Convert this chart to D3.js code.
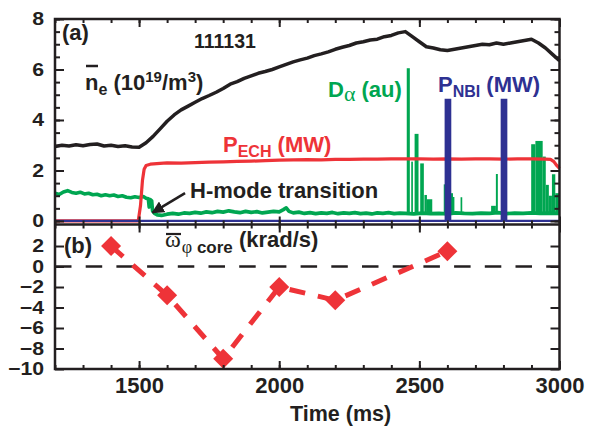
<!DOCTYPE html>
<html>
<head>
<meta charset="utf-8">
<script src="https://cdn.jsdelivr.net/npm/d3@7"></script>
<style>
  body { margin: 0; background: #fff; }
  text { font-family: "Liberation Sans", Arial, sans-serif; font-weight: bold; fill: #231f20; }
  .tk line { stroke: #231f20; stroke-width: 2; }
  .greek { font-family: "Liberation Serif", "DejaVu Serif", serif; font-weight: normal; }
</style>
</head>
<body>
<div id="chart"></div>
<script>
// panel (a) traces, [time ms, value]
var neTrace = [[1200,2.95],[1225,3.0],[1250,2.97],[1275,3.02],[1300,2.98],[1325,3.03],[1350,3.05],[1375,2.97],
  [1400,3.0],[1425,2.95],[1450,2.98],[1475,2.93],[1500,2.92],[1525,3.1],[1550,3.35],[1575,3.65],[1600,3.95],
  [1625,4.2],[1650,4.4],[1675,4.55],[1700,4.7],[1725,4.85],[1750,4.97],[1775,5.1],[1800,5.25],[1825,5.42],
  [1850,5.52],[1875,5.65],[1900,5.75],[1925,5.85],[1950,5.92],[1975,6.0],[2000,6.1],[2025,6.2],[2050,6.3],
  [2075,6.38],[2100,6.45],[2125,6.55],[2150,6.62],[2175,6.7],[2200,6.8],[2225,6.88],[2250,6.95],[2275,7.05],
  [2300,7.1],[2325,7.17],[2350,7.2],[2375,7.3],[2400,7.35],[2425,7.45],[2450,7.5],[2475,7.3],[2500,7.1],
  [2525,6.9],[2550,6.85],[2575,6.78],[2600,6.75],[2625,6.8],[2650,6.85],[2675,6.9],[2700,6.95],[2725,7.0],
  [2750,6.98],[2775,7.05],[2800,7.0],[2825,7.05],[2850,7.1],[2875,7.15],[2900,7.2],[2925,7.05],[2950,6.85],
  [2975,6.6],[3000,6.35]];

var pechTrace = [[1200,0],[1497,0],[1505,0.6],[1512,1.6],[1518,2.05],[1525,2.2],[1540,2.25],[1575,2.28],
  [1600,2.3],[1650,2.29],[1700,2.31],[1750,2.33],[1800,2.34],[1850,2.36],[1900,2.37],[1950,2.39],[2000,2.41],
  [2050,2.42],[2100,2.43],[2150,2.42],[2200,2.44],[2250,2.44],[2300,2.45],[2350,2.45],[2400,2.46],[2450,2.46],
  [2500,2.46],[2550,2.45],[2600,2.46],[2650,2.45],[2700,2.46],[2750,2.46],[2800,2.45],[2850,2.46],[2900,2.46],
  [2950,2.45],[2968,2.44],[2980,2.35],[2990,2.2],[3000,2.08]];

var dalphaTrace = [[1200,1.1],[1215,1.05],[1230,1.15],[1245,1.2],[1260,1.13],[1275,1.1],[1290,1.14],[1305,1.07],
  [1320,1.1],[1335,1.04],[1350,1.06],[1365,1.0],[1380,1.04],[1395,1.0],[1410,1.03],[1425,0.97],[1440,1.0],
  [1455,0.94],[1470,0.92],[1485,0.96],[1500,0.93],[1515,0.97],[1525,0.9],[1533,0.88],[1536,0.55],[1540,0.85],
  [1545,0.8],[1548,0.4],[1555,0.3],[1565,0.24],[1580,0.22],[1600,0.27],[1620,0.3],[1640,0.27],[1660,0.32],
  [1680,0.3],[1700,0.34],[1720,0.31],[1740,0.36],[1760,0.33],[1780,0.38],[1800,0.35],[1820,0.4],[1840,0.36],
  [1860,0.33],[1880,0.38],[1900,0.34],[1920,0.37],[1940,0.32],[1960,0.35],[1980,0.38],[2000,0.36],[2015,0.45],
  [2025,0.52],[2035,0.38],[2050,0.32],[2070,0.35],[2090,0.3],[2110,0.33],[2130,0.29],[2150,0.32],[2170,0.3],
  [2190,0.34],[2210,0.29],[2230,0.32],[2250,0.3],[2270,0.33],[2290,0.29],[2310,0.31],[2330,0.28],[2350,0.32],
  [2370,0.3],[2390,0.33],[2410,0.29],[2430,0.31],[2450,0.3],[2480,0.28],[2510,0.31],[2540,0.29],[2570,0.3],
  [2600,0.28],[2630,0.32],[2660,0.3],[2690,0.29],[2720,0.31],[2750,0.3],[2780,0.33],[2810,0.29],[2840,0.31],
  [2870,0.3],[2900,0.32],[2930,0.3],[2960,0.31],[3000,0.3]];

// D-alpha ELM bursts: [start ms, end ms, peak]
var dalphaBursts = [[2455,2466,6.05],[2471,2477,2.35],[2483,2497,3.45],[2503,2516,2.28],[2518,2527,1.03],
  [2527,2546,0.86],[2587,2604,1.45],[2604,2620,1.1],[2620,2625,0.95],[2647,2653,0.94],[2756,2773,0.6],
  [2773,2780,1.86],[2800,2810,2.59],[2899,2914,3.04],[2914,2940,3.17],[2940,2951,2.55],[2951,2962,1.43],
  [2962,2973,1.0],[2973,2985,1.85],[2985,3000,1.1]];
var dalphaBase = 0.3;

var nbiTrace = [[1200,0],[2594,0],[2594,4.8],[2610,4.8],[2610,0],[2794,0],[2794,4.8],[2810,4.8],[2810,0],[3000,0]];

// panel (b) core rotation
var rotTimes = [1400, 1600, 1800, 2000, 2200, 2600];
var rotValues = [2.0, -2.8, -9.0, -2.0, -3.3, 1.5];

var xTicks = [1500, 2000, 2500, 3000];
var yTicksA = [0, 2, 4, 6, 8];
var yTicksB = [-10, -8, -6, -4, -2, 0, 2];

var red = "#ee3338", green = "#00a651", navy = "#2e3192", black = "#231f20";

var left = 55, right = 559.5, topA = 19, midY = 224.5, botB = 369;

var svg = d3.select("#chart").append("svg")
    .attr("width", 597)
    .attr("height", 432);

var x = d3.scaleLinear().domain([1200, 3000]).range([left, right]);
var yA = d3.scaleLinear().domain([-0.14, 8]).range([midY, topA]);
var yB = d3.scaleLinear().domain([-10, 4.1]).range([botB, midY]);

function ticks(axis, tr, vals, size) {
  svg.append("g").attr("class", "tk").attr("transform", tr)
      .call(axis.tickValues(vals).tickSize(size).tickFormat(""))
      .call(function(g) { g.select(".domain").remove(); g.selectAll("text").remove(); });
}

var minorX = [], minorA = [];
for (var t = 1200; t <= 3000; t += 100) minorX.push(t);
for (var v = 0; v <= 8; v += 0.5) minorA.push(v);

// panel (a) traces
var lineA = d3.line().x(function(d) { return x(d[0]); }).y(function(d) { return yA(d[1]); });

svg.append("path").datum(neTrace)
    .attr("d", lineA).attr("fill", "none").attr("stroke", black)
    .attr("stroke-width", 3.5).attr("stroke-linejoin", "round");

svg.append("path").datum(dalphaTrace)
    .attr("d", lineA).attr("fill", "none").attr("stroke", green)
    .attr("stroke-width", 3.6).attr("stroke-linejoin", "round");

svg.selectAll(".burst").data(dalphaBursts)
  .enter().append("rect")
    .attr("class", "burst")
    .attr("x", function(d) { return x(d[0]); })
    .attr("width", function(d) { return x(d[1]) - x(d[0]); })
    .attr("y", function(d) { return yA(d[2]); })
    .attr("height", function(d) { return yA(dalphaBase) - yA(d[2]); })
    .attr("fill", green);

svg.append("path").datum(pechTrace)
    .attr("d", lineA).attr("fill", "none").attr("stroke", red)
    .attr("stroke-width", 3.2).attr("stroke-linejoin", "round");

svg.append("path").datum(nbiTrace)
    .attr("d", d3.area().x(function(d) { return x(d[0]); }).y0(yA(0)).y1(function(d) { return yA(d[1]); }))
    .attr("fill", navy);
svg.append("path").datum(nbiTrace)
    .attr("d", lineA).attr("fill", "none").attr("stroke", navy).attr("stroke-width", 2.2);

// panel (b)
svg.append("line")
    .attr("x1", x(1200)).attr("x2", x(3000))
    .attr("y1", yB(0)).attr("y2", yB(0))
    .attr("stroke", black).attr("stroke-width", 2.5)
    .attr("stroke-dasharray", "16.5,14.2");

var rot = rotTimes.map(function(t, i) { return [t, rotValues[i]]; });

svg.append("path").datum(rot)
    .attr("d", d3.line().x(function(d) { return x(d[0]); }).y(function(d) { return yB(d[1]); }))
    .attr("fill", "none").attr("stroke", red).attr("stroke-width", 5)
    .attr("stroke-dasharray", "16,13");

svg.selectAll(".pt").data(rot)
  .enter().append("path")
    .attr("class", "pt")
    .attr("d", d3.symbol(d3.symbolSquare, 200))
    .attr("transform", function(d) { return "translate(" + x(d[0]) + "," + yB(d[1]) + ") rotate(45)"; })
    .attr("fill", red);

// frame
svg.append("rect")
    .attr("x", left).attr("y", topA)
    .attr("width", right - left).attr("height", botB - topA)
    .attr("fill", "none").attr("stroke", black).attr("stroke-width", 2.5);
svg.append("line")
    .attr("x1", left).attr("x2", right).attr("y1", midY).attr("y2", midY)
    .attr("stroke", black).attr("stroke-width", 2.5);

// ticks, all pointing inward
ticks(d3.axisLeft(yA), "translate(" + left + ",0)", minorA, -5);
ticks(d3.axisLeft(yA), "translate(" + left + ",0)", yTicksA, -9);
ticks(d3.axisRight(yA), "translate(" + right + ",0)", minorA, -5);
ticks(d3.axisRight(yA), "translate(" + right + ",0)", yTicksA, -9);
ticks(d3.axisLeft(yB), "translate(" + left + ",0)", yTicksB, -9);
ticks(d3.axisRight(yB), "translate(" + right + ",0)", yTicksB, -9);
[topA, midY].forEach(function(yy) {
  ticks(d3.axisTop(x), "translate(0," + yy + ")", minorX, -4);
  ticks(d3.axisTop(x), "translate(0," + yy + ")", xTicks, -8);
});
[midY, botB].forEach(function(yy) {
  ticks(d3.axisBottom(x), "translate(0," + yy + ")", minorX, -4);
  ticks(d3.axisBottom(x), "translate(0," + yy + ")", xTicks, -8);
});

// tick labels
function labels(g) {
  g.select(".domain").remove();
  g.selectAll("text").style("font-size", "22px").attr("fill", black);
}
function yLabels(g) {
  g.select(".domain").remove();
  g.selectAll("text")
      .style("font-size", "18px").attr("fill", black)
      .attr("x", -11 / 1.18).attr("dy", "0.33em")
      .attr("transform", "scale(1.18,1)");
}
svg.append("g").attr("transform", "translate(" + left + ",0)")
    .call(d3.axisLeft(yA).tickValues(yTicksA).tickSize(0).tickPadding(11))
    .call(yLabels);
svg.append("g").attr("transform", "translate(" + left + ",0)")
    .call(d3.axisLeft(yB).tickValues(yTicksB).tickSize(0).tickPadding(11))
    .call(yLabels);
svg.append("g").attr("transform", "translate(0," + botB + ")")
    .call(d3.axisBottom(x).tickValues(xTicks).tickSize(0).tickPadding(8).tickFormat(d3.format("d")))
    .call(labels);

svg.append("text").attr("x", 290).attr("y", 421)
    .style("font-size", "21.5px").text("Time (ms)");

// annotations
svg.append("text").attr("x", 62).attr("y", 40).style("font-size", "22px").text("(a)");
svg.append("text").attr("x", 194).attr("y", 48).style("font-size", "19.5px").text("111131");
svg.append("text").attr("x", 64).attr("y", 253).style("font-size", "22px").text("(b)");

var ne = svg.append("text").attr("x", 85).attr("y", 90).style("font-size", "22px");
ne.append("tspan").text("n");
ne.append("tspan").attr("dy", 5).style("font-size", "16px").text("e");
ne.append("tspan").attr("dy", -5).text(" (10");
ne.append("tspan").attr("dy", -8).style("font-size", "15px").text("19");
ne.append("tspan").attr("dy", 8).text("/m");
ne.append("tspan").attr("dy", -8).style("font-size", "15px").text("3");
ne.append("tspan").attr("dy", 8).text(")");
svg.append("line").attr("x1", 86).attr("x2", 98).attr("y1", 66).attr("y2", 66)
    .attr("stroke", black).attr("stroke-width", 2.5);

var pe = svg.append("text").attr("x", 223).attr("y", 152).style("font-size", "22px");
pe.append("tspan").attr("fill", red).text("P");
pe.append("tspan").attr("fill", red).attr("dy", 5).style("font-size", "16px").text("ECH");
pe.append("tspan").attr("fill", red).attr("dy", -5).text(" (MW)");

var da = svg.append("text").attr("x", 328).attr("y", 97).style("font-size", "22px");
da.append("tspan").attr("fill", green).text("D");
da.append("tspan").attr("fill", green).attr("class", "greek").attr("dy", 4).style("font-size", "22px").text("α");
da.append("tspan").attr("fill", green).attr("dy", -4).text(" (au)");

var pn = svg.append("text").attr("x", 438).attr("y", 92).style("font-size", "22px");
pn.append("tspan").attr("fill", navy).text("P");
pn.append("tspan").attr("fill", navy).attr("dy", 5).style("font-size", "16px").text("NBI");
pn.append("tspan").attr("fill", navy).attr("dy", -5).text(" (MW)");

svg.append("text").attr("x", 190).attr("y", 198).style("font-size", "22px").text("H-mode transition");

svg.append("defs").append("marker")
    .attr("id", "head").attr("viewBox", "0 0 10 10")
    .attr("refX", 9).attr("refY", 5)
    .attr("markerWidth", 4.8).attr("markerHeight", 4.8)
    .attr("markerUnits", "strokeWidth").attr("orient", "auto")
  .append("path").attr("d", "M0,0L10,5L0,10z").attr("fill", black);
svg.append("line")
    .attr("x1", x(1664)).attr("y1", yA(1.1))
    .attr("x2", x(1548)).attr("y2", yA(0.33))
    .attr("stroke", black).attr("stroke-width", 2.6)
    .attr("marker-end", "url(#head)");

var om = svg.append("text").attr("x", 165).attr("y", 247).style("font-size", "22px");
om.append("tspan").attr("class", "greek").style("font-size", "24px").text("ω");
om.append("tspan").attr("class", "greek").attr("dy", 6).attr("dx", 1).style("font-size", "18px").text("φ");
om.append("tspan").style("font-size", "17px").text(" core");
om.append("tspan").attr("dy", -6).text(" (krad/s)");
svg.append("line").attr("x1", 166).attr("x2", 181).attr("y1", 234).attr("y2", 234)
    .attr("stroke", black).attr("stroke-width", 2.2);
</script>
</body>
</html>
